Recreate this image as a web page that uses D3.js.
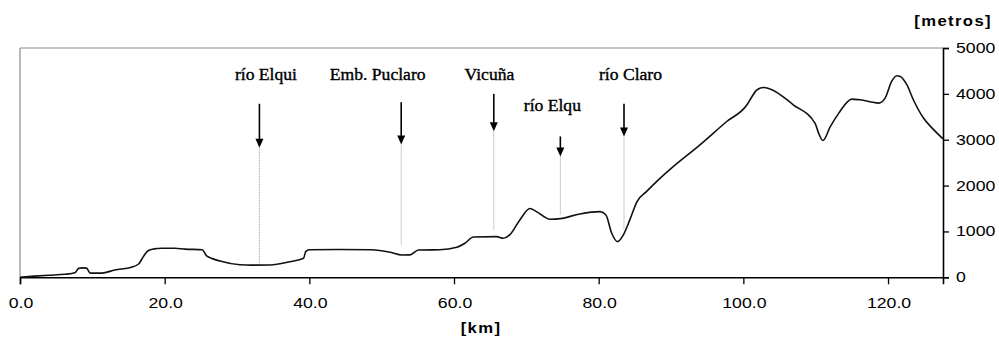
<!DOCTYPE html>
<html><head><meta charset="utf-8">
<script src="https://cdn.jsdelivr.net/npm/d3@7"></script>
<style>body{margin:0;background:#fff}svg{display:block}</style>
</head><body>
<svg id="c" width="999" height="338"></svg>
<script>
// ---- data ----
const distanceKm = [0,2,4,6.2,7.6,8.1,8.6,9.2,9.7,11.3,13.1,15.4,16.4,17.05,17.7,18.5,19.6,21.4,22.8,25.2,25.8,27.65,30.4,32,34.6,37.3,39.2,39.5,40.0,44,48.6,51.2,52.8,53.9,55.1,58,60.4,61.5,62.7,65.9,66.8,67.7,69.1,70.5,71.4,73.3,74.7,77.4,80.2,81.0,81.8,82.6,83.4,84.3,85.3,86.6,88.0,89.9,94.0,97.7,100.5,101.2,101.9,102.8,103.7,106.9,109.9,110.4,111.0,112.0,113.2,115.0,116.1,118.7,119.6,120.5,121.2,121.7,122.6,123.5,124.9,126.1,127.6];
const elevationM = [0,25,45,65,100,195,205,200,90,90,160,220,290,450,580,620,635,635,615,600,465,356,275,265,268,340,415,560,600,605,600,546,487,490,596,600,655,742,880,886,851,923,1251,1500,1432,1266,1280,1382,1432,1360,960,777,923,1251,1651,1869,2087,2358,2889,3397,3762,3943,4090,4140,4105,3762,3362,3144,2983,3280,3580,3886,3871,3799,3908,4271,4395,4380,4199,3871,3472,3253,3020];

const annotLabels = ["río Elqui","Emb. Puclaro","Vicuña","río Elqu","río Claro"];
const annotKm     = [33.1, 52.7, 65.5, 74.7, 83.5];      // arrow position
const annotLabelKm= [34.0, 49.45, 64.9, 73.6, 84.4];     // label centre
const annotLabelM = [4308, 4308, 4308, 3616, 4308];      // label baseline
const annotArrowTopM = [3784, 3818, 4000, 3072, 3784];
const annotArrowTipM = [2823, 2895, 3183, 2635, 3072];
const annotDotEndM   = [268, 705, 1033, 1360, 1033];

const xTicks = [0,20,40,60,80,100,120];
const yTicks = [0,1000,2000,3000,4000,5000];
const xTitle = "[km]";
const yTitle = "[metros]";

// ---- layout ----
const L = 20, R = 943, T = 48, B = 277.3;
const x = d3.scaleLinear().domain([0,127.6]).range([L,R]);
const y = d3.scaleLinear().domain([0,5000]).range([B,T]);
const svg = d3.select("#c");
const SX = 1.22;

function stext(g, txt, px, py, opts){
  return g.append("text").text(txt)
    .attr("transform",`translate(${px},${py}) scale(${opts.sx||SX},1)`)
    .attr("text-anchor",opts.anchor||"start")
    .attr("font-family",opts.family||"'Liberation Sans', Arial, sans-serif")
    .attr("font-size",opts.size||14.5)
    .attr("font-weight",opts.weight||"normal")
    .attr("letter-spacing",opts.ls||0)
    .attr("stroke",opts.stroke?"#000":"none")
    .attr("stroke-width",opts.stroke||0)
    .attr("fill","#000");
}

// frame (top + left thin grey)
svg.append("line").attr("x1",L).attr("x2",R).attr("y1",T).attr("y2",T).attr("stroke","#8a8a8a").attr("stroke-width",1.2);
svg.append("line").attr("x1",L).attr("x2",L).attr("y1",T).attr("y2",B).attr("stroke","#8a8a8a").attr("stroke-width",1.2);

// x axis
const gx = svg.append("g").attr("transform",`translate(0,${B})`)
  .call(d3.axisBottom(x).tickValues(xTicks).tickSize(7).tickFormat(""));
gx.select(".domain").attr("stroke","#000").attr("stroke-width",1.6);
gx.selectAll(".tick line").attr("stroke","#000").attr("stroke-width",1.3);
xTicks.forEach(v=>stext(svg, d3.format(".1f")(v), x(v)+1, 307.5, {anchor:"middle"}));

// y axis on right
const gy = svg.append("g").attr("transform",`translate(${R},0)`)
  .call(d3.axisRight(y).tickValues(yTicks).tickSize(6).tickFormat(""));
gy.select(".domain").attr("stroke","#000").attr("stroke-width",1.6);
gy.selectAll(".tick line").attr("stroke","#000").attr("stroke-width",1.3);
yTicks.forEach(v=>stext(svg, String(v), 956, y(v)+5, {anchor:"start"}));

// titles
stext(svg, yTitle, 992, 26, {anchor:"end", weight:"bold", ls:1.2, sx:1.15});
stext(svg, xTitle, 481, 333, {anchor:"middle", weight:"bold", ls:1.2, sx:1.15});

// annotations
const ga = svg.append("g");
annotLabels.forEach((t,i)=>{
  const ax = x(annotKm[i]);
  ga.append("line").attr("x1",ax).attr("x2",ax).attr("y1",y(annotArrowTipM[i])).attr("y2",y(annotDotEndM[i]))
    .attr("stroke","#9a9a9a").attr("stroke-width",1).attr("stroke-dasharray","1,1");
  const tipY = y(annotArrowTipM[i]);
  ga.append("line").attr("x1",ax).attr("x2",ax).attr("y1",y(annotArrowTopM[i])).attr("y2",tipY-5)
    .attr("stroke","#000").attr("stroke-width",1.6);
  ga.append("path").attr("d",`M${ax-4},${tipY-9}L${ax+4},${tipY-9}L${ax},${tipY}Z`).attr("fill","#000");
  stext(ga, t, x(annotLabelKm[i]), y(annotLabelM[i]), {anchor:"middle", family:"'Liberation Serif','Times New Roman',serif", size:16, sx:1.1, stroke:0.35});
});

// profile
const pts = distanceKm.map((d,i)=>[d, elevationM[i]]);
svg.append("path").datum(pts)
  .attr("d", d3.line().x(d=>x(d[0])).y(d=>y(d[1])).curve(d3.curveMonotoneX))
  .attr("fill","none").attr("stroke","#111").attr("stroke-width",1.6);
</script>
</body></html>
